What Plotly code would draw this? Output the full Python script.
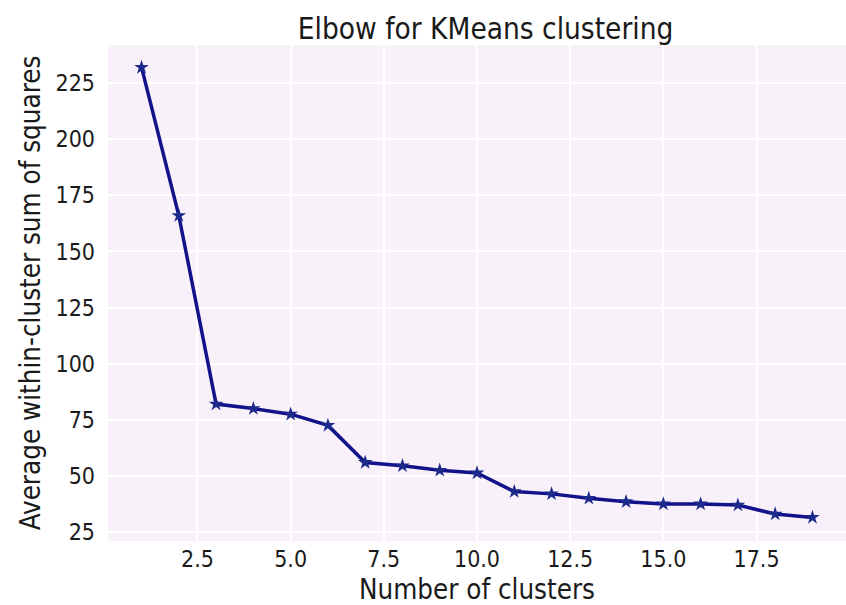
import plotly.graph_objects as go

# Number of clusters tried and the average within-cluster sum of squares for each
n_clusters = list(range(1, 20))
avg_wcss = [232, 166, 82, 80, 77.5, 72.5, 56, 54.5, 52.5, 51.3,
            43, 42, 40, 38.5, 37.5, 37.5, 37, 33, 31.5]

x_ticks = [2.5, 5.0, 7.5, 10.0, 12.5, 15.0, 17.5]
y_ticks = [25, 50, 75, 100, 125, 150, 175, 200, 225]

font_family = "DejaVu Sans Condensed, DejaVu Sans"

fig = go.Figure(
    go.Scatter(
        x=n_clusters,
        y=avg_wcss,
        mode="lines+markers",
        line=dict(color="#12128a", width=3.5),
        marker=dict(symbol="star", size=11, color="#1c2a8c"),
    )
)

fig.update_layout(
    width=846,
    height=605,
    margin=dict(l=108, r=0, t=45, b=64),
    paper_bgcolor="white",
    plot_bgcolor="#f9f1f9",
    showlegend=False,
    font=dict(family=font_family, color="#1a1a1a"),
    title=dict(
        text="Elbow for KMeans clustering",
        x=0.574, xanchor="center",
        y=0.952, yanchor="middle",
        font=dict(size=29.5, family=font_family, color="#1a1a1a"),
    ),
)

fig.update_xaxes(
    range=[0.1, 19.9],
    tickvals=x_ticks,
    ticktext=[f"{v:.1f}" for v in x_ticks],
    tickfont=dict(size=23),
    showgrid=True, gridcolor="white", gridwidth=1.5,
    zeroline=False, showline=False, ticks="",
    ticklabelstandoff=2,
    title=dict(text="Number of clusters", font=dict(size=27.5), standoff=9),
)

fig.update_yaxes(
    range=[21, 242],
    tickvals=y_ticks,
    tickfont=dict(size=23),
    showgrid=True, gridcolor="white", gridwidth=1.5,
    zeroline=False, showline=False, ticks="",
    ticklabelstandoff=12,
    title=dict(text="Average within-cluster sum of squares", font=dict(size=27.5), standoff=6),
)

fig.write_html("out.html")
